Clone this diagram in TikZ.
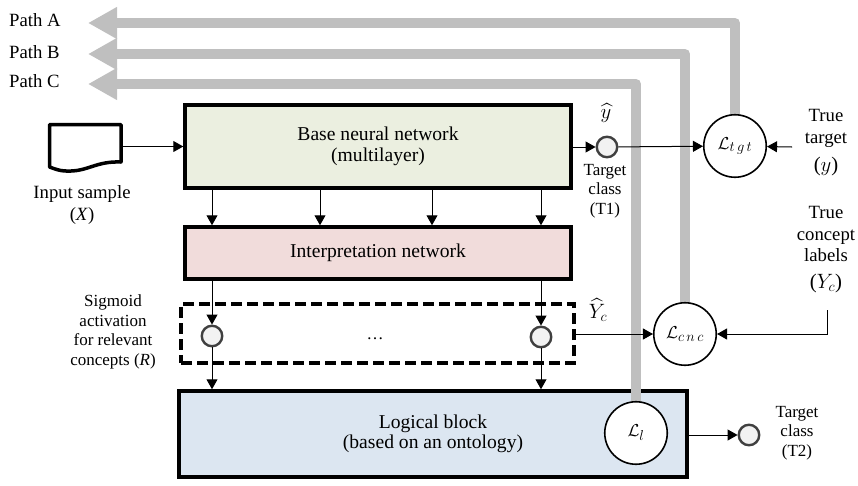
\documentclass[tikz,border=0pt]{standalone}
\usepackage{fontspec}
\setmainfont{Liberation Serif}
\usepackage{amsmath,amssymb}
\usepackage{xcolor}
\usetikzlibrary{positioning,arrows.meta,calc}
\definecolor{pathgray}{HTML}{BFBFBF}
\definecolor{basegreen}{HTML}{EBEFE0}
\definecolor{interppink}{HTML}{F1DCDB}
\definecolor{logicblue}{HTML}{DCE6F1}
\pgfdeclarelayer{blocks}
\pgfdeclarelayer{paths}
\pgfsetlayers{blocks,paths,main}
\DeclareMathSizes{20.74}{20.74}{14.4}{12}
\DeclareMathSizes{17.28}{17.28}{14.4}{12}
\newcommand{\boxtext}{\fontsize{19.6}{20.5}\selectfont}
\newcommand{\bigtext}{\fontsize{18.7}{21.5}\selectfont}
\newcommand{\smalltext}{\fontsize{17}{19.5}\selectfont}
\newcommand{\mathtext}{\fontsize{20.74}{22}\selectfont}
\tikzset{
  block/.style={draw=black, line width=3.5pt, align=center, inner sep=0pt, font=\boxtext},
  loss/.style={circle, draw=black, line width=1.6pt, fill=white, minimum size=62.5pt, inner sep=0pt, font=\fontsize{17.28}{20}\selectfont},
  sigm/.style={circle, draw=black!75, line width=2.4pt, fill=black!5, minimum size=20.5pt, inner sep=0pt},
  conn/.style={draw=black, line width=1pt, -{Triangle[length=10pt,width=11pt]}},
  greypath/.style={draw=pathgray, line width=10pt, line join=round, -{Triangle[length=29pt,width=30pt]}},
  bigtxt/.style={align=center, inner sep=0pt, font=\bigtext},
  smalltxt/.style={align=center, inner sep=0pt, font=\smalltext}
}
\begin{document}
\begin{tikzpicture}[x=1pt, y=-1pt]
\useasboundingbox (0,0) rectangle (858,485);

% Columns of the arrows between the blocks
\coordinate (colA) at (212,0);
\coordinate (colB) at (320,0);
\coordinate (colC) at (432,0);
\coordinate (colD) at (541,0);

% Blocks
\node[block, fill=basegreen, minimum width=386pt, minimum height=83pt] (base) at (378,146.5) {Base neural network\\(multilayer)};
\node[block, fill=interppink, minimum width=386pt, minimum height=52pt] (interp) at (378,253) {Interpretation network};
\node[draw=black, line width=3.5pt, dash pattern=on 11pt off 5pt, minimum width=393pt, minimum height=59pt, inner sep=0pt] (sigbox) at (377.5,333.5) {};
\begin{pgfonlayer}{blocks}
\node[block, fill=logicblue, minimum width=508pt, minimum height=86pt] (logic) at (433,434) {Logical block\\(based on an ontology)};
\end{pgfonlayer}
\node[smalltxt] (dots) at (375,339) {\dots};

% Input document
\draw[line width=3.5pt, line join=round] (49.5,124.5) -- (121,124.5) -- (121,162) .. controls (95,161) and (88,172) .. (66,171) .. controls (60,171) and (55,169) .. (49.5,167) -- cycle;
\coordinate (docR) at (122.5,146.5);
\node[bigtxt] (input) at (82,205) {Input sample\\(\textit{X})};

% Sigmoid outputs
\node[sigm] (sigL) at (212,336) {};
\node[sigm] (sigR) at (541,337) {};
\node[sigm] (sigT) at (607,147) {};
\node[sigm] (sigU) at (749,435) {};

% Losses
\node[loss] (losstgt) at (735,146) {$\mathcal{L}_{t\,g\,t}$};
\node[loss] (losscnc) at (685,334) {$\mathcal{L}_{c\,n\,c}$};
\node[loss] (lossl) at (636,433) {$\mathcal{L}_{l}$};

% Labels
\node[bigtxt, anchor=west] (pathA) at (9,20) {Path A};
\node[bigtxt, anchor=west] (pathB) at (9,52) {Path B};
\node[bigtxt, anchor=west] (pathC) at (9,81) {Path C};
\node[smalltxt] (sigtxt) at (113,332) {Sigmoid\\activation\\for relevant\\concepts (\textit{R})};
\node[smalltxt] (tgtone) at (605,191) {Target\\class\\(T1)};
\node[smalltxt] (tgttwo) at (797,433) {Target\\class\\(T2)};
\node[bigtxt, font=\mathtext] (yhat) at (606,113) {$\widehat{y}$};
\node[bigtxt, font=\mathtext] (Yhat) at (598,310) {$\widehat{Y}_{c}$};
\node[bigtxt] (truetgt) at (826,142.5) {True\\target\\[6.5pt]{\mathtext($y$)}};
\node[bigtxt] (truecnc) at (826,249.5) {True\\concept\\labels\\[5pt]{\mathtext($Y_{c}$)}};

% Grey paths
\coordinate (tipA) at (88,23);
\coordinate (tipB) at (88,54);
\coordinate (tipC) at (88,84);
\begin{pgfonlayer}{paths}
\foreach \lossname/\tipname in {losstgt/tipA, losscnc/tipB, lossl/tipC} {
  \draw[greypath] (\lossname.center) |- (\tipname);
}
\end{pgfonlayer}

% Arrows
\draw[conn] (docR) -- (base.west);
\foreach \col in {colA,colB,colC,colD} {
  \draw[conn] (base.south -| \col) -- (interp.north -| \col);
}
\draw[conn] (interp.south -| sigL) -- (sigL);
\draw[conn] (interp.south -| sigR) -- (sigR);
\draw[conn] (sigL) -- (logic.north -| sigL);
\draw[conn] (sigR) -- (logic.north -| sigR);
\draw[conn] (base.east |- sigT) -- (sigT);
\draw[conn] (sigT) -- (losstgt);
\coordinate (truetgtR) at (792,147);
\draw[conn] (truetgtR) -- (losstgt);
\draw[conn] (sigbox.east |- losscnc) -- (losscnc);
\coordinate (truecncS) at (827,310);
\draw[conn] (truecncS) |- (losscnc);
\draw[conn] (logic.east |- sigU) -- (sigU);
\end{tikzpicture}
\end{document}
